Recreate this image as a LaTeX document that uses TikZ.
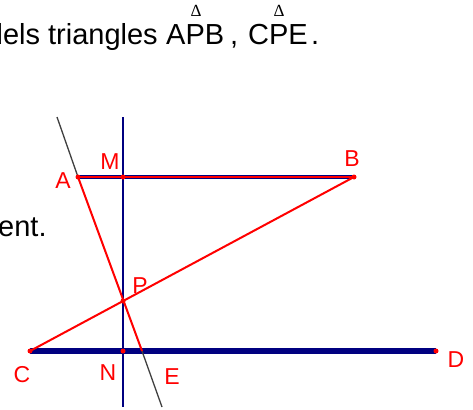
\documentclass[tikz,border=0pt]{standalone}
\usepackage{fontspec}
\setmainfont{Liberation Sans}
\newfontfamily\trifont{Liberation Serif}
\definecolor{segblue}{RGB}{0,0,128}
\definecolor{linegray}{RGB}{64,64,64}
\tikzset{
  lbl/.style={text=red, font=\fontsize{23}{27}\selectfont, inner sep=0pt},
  txt/.style={font=\fontsize{29}{34}\selectfont, inner sep=0pt, anchor=base west},
  delta/.style={font=\trifont\fontsize{17}{19}\selectfont, inner sep=0pt}
}
\begin{document}
\begin{tikzpicture}[x=1pt,y=-1pt]
\useasboundingbox (0,0) rectangle (473,409);

            % points of the figure
            \coordinate (A) at (78,177);
            \coordinate (B) at (354,177);
            \coordinate (M) at (123,177);
            \coordinate (C) at (30,351);
            \coordinate (D) at (436,351);
            \coordinate (N) at (123,351);
            \coordinate (P) at (123,301);
            \coordinate (E) at (142,351);
            % ends of the lines
            \coordinate (Vtop) at (123,117);
            \coordinate (Vbot) at (123,407);
            \coordinate (Ltop) at (57,117);
            \coordinate (Lbot) at (162,407);

            % statement
            \node[txt] (apb) at (166,45) {APB};
            \node[txt, anchor=base east] (tri) at (158,45) {dels triangles};
            \node[txt] (comma) at (230,45) {,};
            \node[txt] (cpe) at (248,45) {CPE};
            \node[txt] (stop) at (311,45) {.};
            \node[delta] (d1) at (196,11) {Δ};
            \node[delta] (d2) at (279,11) {Δ};
            \node[txt] (ent) at (-2,236) {ent.};

            % perpendicular MN
            \draw[segblue, line width=2pt] (Vtop) -- (Vbot);

            % segments CD and AB
            \draw[segblue, line width=5.5pt] (C) -- (D);
            \draw[segblue, line width=4.5pt] (A) -- (B);
            \draw[red, line width=2pt] (A) -- (B);

            % line AE
            \draw[linegray, line width=1.3pt] (Ltop) -- (A) (E) -- (Lbot);
            \draw[red, line width=2pt] (A) -- (E) (C) -- (B);

            % marks
            \foreach \p in {A,B,C,D,M,N,P}
                \fill[red] (\p) circle (2.5);

            % labels
            \node[lbl] (lA) at (63,181) {A};
            \node[lbl] (lB) at (352,159) {B};
            \node[lbl] (lM) at (110,162) {M};
            \node[lbl] (lP) at (140,286) {P};
            \node[lbl] (lC) at (22,375) {C};
            \node[lbl] (lN) at (108,373) {N};
            \node[lbl] (lE) at (172,377) {E};
            \node[lbl] (lD) at (456,360) {D};
\end{tikzpicture}
\end{document}
